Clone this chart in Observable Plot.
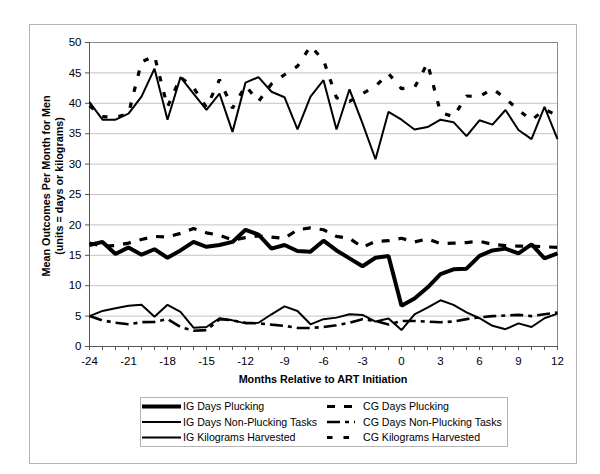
<!DOCTYPE html>
<html><head><meta charset="utf-8">
<script src="https://cdn.jsdelivr.net/npm/d3@7"></script>
<script src="https://cdn.jsdelivr.net/npm/@observablehq/plot@0.6"></script>
<style>
body{margin:0;background:#fff;}
#chart{width:600px;height:474px;}
</style></head><body><div id="chart"></div>
<script>
const months = [-24,-23,-22,-21,-20,-19,-18,-17,-16,-15,-14,-13,-12,-11,-10,-9,-8,-7,-6,-5,-4,-3,-2,-1,0,1,2,3,4,5,6,7,8,9,10,11,12];
const igDaysPlucking = [16.7,17.2,15.2,16.3,15.1,16.0,14.6,15.8,17.2,16.4,16.7,17.2,19.2,18.4,16.1,16.7,15.7,15.6,17.4,15.8,14.5,13.2,14.6,14.9,6.7,7.9,9.7,11.9,12.7,12.8,14.9,15.8,16.1,15.3,16.8,14.5,15.3];
const cgDaysPlucking = [17.0,16.5,16.6,17.0,17.6,18.1,18.0,18.6,19.4,18.7,18.3,17.5,17.9,18.2,18.0,17.8,19.2,19.5,19.2,18.1,17.8,16.3,17.3,17.4,17.8,17.2,17.7,16.9,17.0,17.1,17.3,16.8,16.6,16.5,16.5,16.4,16.3];
const igDaysNonPlucking = [5.0,5.85,6.3,6.7,6.85,4.9,6.85,5.7,3.1,3.2,4.65,4.3,3.8,3.9,5.3,6.6,5.85,3.65,4.5,4.75,5.3,5.2,4.1,4.6,2.7,5.3,6.4,7.6,6.85,5.6,4.65,3.4,2.85,3.8,3.2,4.65,5.4];
const cgDaysNonPlucking = [5.0,4.3,3.9,3.65,4.0,4.05,4.5,3.2,2.6,2.7,4.5,4.3,3.9,3.8,3.6,3.4,3.05,3.05,3.2,3.5,3.9,4.5,4.2,3.6,4.2,4.2,4.1,4.0,4.1,4.5,4.8,5.0,5.1,5.2,5.0,5.3,5.6];
const igKgHarvested = [40.2,37.3,37.3,38.3,41.1,45.7,37.3,44.3,41.6,38.9,41.6,35.3,43.4,44.3,41.9,41.0,35.7,41.1,43.8,35.7,42.3,36.7,30.8,38.6,37.3,35.7,36.1,37.3,36.9,34.6,37.2,36.5,38.9,35.6,34.1,39.4,34.1];
const cgKgHarvested = [39.6,37.8,37.7,38.3,46.8,47.8,39.4,44.3,42.6,39.3,43.9,39.2,42.9,40.3,43.2,44.7,46.1,49.4,47.1,40.9,40.3,41.6,42.8,44.9,42.4,42.6,46.6,38.5,37.8,41.2,41.1,42.4,40.8,38.9,37.2,39.0,38.0];
const xTickLabels = [-24,-21,-18,-15,-12,-9,-6,-3,0,3,6,9,12];
const yTickLabels = [0,5,10,15,20,25,30,35,40,45,50];
const seriesNames = ["IG Days Plucking","IG Days Non-Plucking Tasks","IG Kilograms Harvested","CG Days Plucking","CG Days Non-Plucking Tasks","CG Kilograms Harvested"];
const seriesValues = [igDaysPlucking, igDaysNonPlucking, igKgHarvested, cgDaysPlucking, cgDaysNonPlucking, cgKgHarvested];

// styles (kept apart from data)
const styles = [
  {w: 4, dash: null},
  {w: 2, dash: null},
  {w: 2, dash: null},
  {w: 3.2, dash: "8,9"},
  {w: 2.6, dash: "13,5,4,5"},
  {w: 3.2, dash: "5.5,11"}
];

const tables = seriesValues.map(vals => months.map((m, i) => ({month: m, value: vals[i]})));
const FONT = "'Liberation Sans', Arial, sans-serif";

const lineMarks = [3,4,5,1,2,0].map(k => Plot.line(tables[k], {
  x: "month", y: "value", stroke: "#000",
  strokeWidth: styles[k].w,
  strokeDasharray: styles[k].dash,
  strokeLinecap: "butt",
  strokeLinejoin: "miter"
}));

const plot = Plot.plot({
  width: 600, height: 474,
  marginLeft: 89, marginRight: 43, marginTop: 42, marginBottom: 128,
  style: {fontFamily: FONT, fontSize: "11.5px", color: "#000", background: "#fff"},
  x: {domain: [-24, 12], label: null},
  y: {domain: [0, 50], label: null},
  marks: [
    Plot.gridY(yTickLabels, {stroke: "#c4c4c4", strokeOpacity: 1}),
    Plot.ruleY([50], {stroke: "#8a8a8a"}),
    Plot.ruleX([12], {stroke: "#8a8a8a"}),
    Plot.axisX(months, {tickSize: 4, stroke: "#555", tickFormat: () => "", label: null}),
    Plot.axisX(xTickLabels, {tickSize: 4, tickPadding: 6, stroke: "#555", fill: "#000", tickFormat: d => String(d), label: null}),
    Plot.axisY(yTickLabels, {tickSize: 4, tickPadding: 4, stroke: "#555", fill: "#000", tickFormat: d => String(d), label: null}),
    Plot.ruleY([0], {stroke: "#555"}),
    Plot.ruleX([-24], {stroke: "#555"}),
    ...lineMarks
  ]
});
document.getElementById("chart").appendChild(plot);

const svg = d3.select(plot);
// outer chart frame
svg.insert("rect", ":first-child").attr("x", 29.5).attr("y", 24.5).attr("width", 547).attr("height", 439)
  .attr("fill", "none").attr("stroke", "#b5b5b5");

// axis titles
svg.append("text").attr("x", 323).attr("y", 383).attr("text-anchor", "middle")
  .attr("font-family", FONT).attr("font-size", 10.8).attr("font-weight", "bold").attr("fill", "#000")
  .text("Months Relative to ART Initiation");
svg.append("text").attr("transform", "translate(49.5,186) rotate(-90)").attr("text-anchor", "middle")
  .attr("font-family", FONT).attr("font-size", 10.8).attr("font-weight", "bold").attr("fill", "#000")
  .text("Mean Outcomes Per Month for Men");
svg.append("text").attr("transform", "translate(62.5,186) rotate(-90)").attr("text-anchor", "middle")
  .attr("font-family", FONT).attr("font-size", 10.8).attr("font-weight", "bold").attr("fill", "#000")
  .text("(units = days or kilograms)");

// legend
const lg = svg.append("g").attr("text-anchor", "start");
lg.append("rect").attr("x", 140.5).attr("y", 397.5).attr("width", 367).attr("height", 49)
  .attr("fill", "#fff").attr("stroke", "#b5b5b5");
const rowsY = [406.5, 422, 437.5];
const cols = [{x1: 142, x2: 181, tx: 183}, {x1: 327, x2: 355, tx: 363}];
seriesNames.forEach((name, k) => {
  const c = cols[Math.floor(k / 3)], y = rowsY[k % 3];
  lg.append("line").attr("x1", c.x1).attr("x2", c.x2).attr("y1", y).attr("y2", y)
    .attr("stroke", "#000").attr("stroke-width", styles[k].w)
    .attr("stroke-dasharray", styles[k].dash).attr("stroke-linecap", "butt");
  lg.append("text").attr("x", c.tx).attr("y", y).attr("dy", "0.36em").attr("text-anchor", "start")
    .attr("font-family", FONT).attr("font-size", 10.6).attr("fill", "#000").text(name);
});
</script>
</body></html>
